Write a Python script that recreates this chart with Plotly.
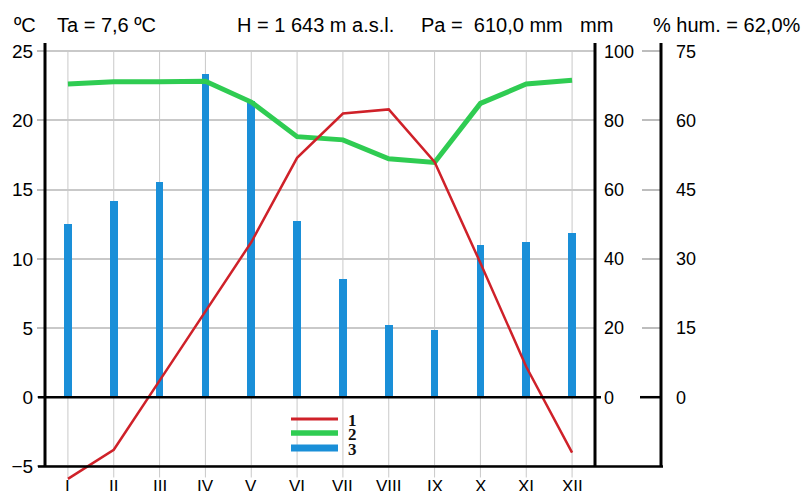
import plotly.graph_objects as go

# ---------------- data ----------------
months = ["I", "II", "III", "IV", "V", "VI", "VII", "VIII", "IX", "X", "XI", "XII"]
temperature = [-5.9, -3.8, 1.2, 6.2, 11.2, 17.3, 20.5, 20.8, 17.0, 9.7, 2.2, -4.0]      # ºC
precipitation = [50.0, 56.6, 62.3, 93.5, 85.5, 51.0, 34.2, 21.0, 19.4, 43.9, 45.0, 47.4]  # mm
humidity = [67.9, 68.4, 68.4, 68.5, 64.0, 56.5, 55.8, 51.7, 50.9, 63.7, 67.9, 68.7]     # %
temp_ticks = [-5, 0, 5, 10, 15, 20, 25]
mm_ticks = [0, 20, 40, 60, 80, 100]
hum_ticks = [0, 15, 30, 45, 60, 75]
legend_names = ["1", "2", "3"]
header_texts = ["ºC", "Ta = 7,6 ºC", "H = 1 643 m a.s.l.", "Pa =  610,0 mm", "mm", "% hum. = 62,0%"]

# ---------------- layout helpers ----------------
W, H = 801, 491
ML, MR, MT, MB = 45, 100, 43, 8
PW, PH = W - ML - MR, H - MT - MB


def px_x(px):
    return (px - ML) / PW


def px_y(py):
    return (MT + PH - py) / PH


T_LO, T_HI = -6.2, 25.6
x = list(range(1, len(months) + 1))

RED = "#cf2129"
GREEN = "#2fcc52"
BLUE = "#1a8fd8"
GRID = "#c9c9c9"
SANS = "Liberation Sans, Arial, sans-serif"
SERIF = "Liberation Serif, Times New Roman, serif"

fig = go.Figure()

fig.add_trace(go.Bar(
    x=x, y=precipitation, yaxis="y", width=0.17, name=legend_names[2],
    marker=dict(color=BLUE, line=dict(width=0)), showlegend=False,
))
fig.add_trace(go.Scatter(
    x=x, y=humidity, yaxis="y2", mode="lines", name=legend_names[1],
    line=dict(color=GREEN, width=5), showlegend=False,
))
fig.add_trace(go.Scatter(
    x=x, y=temperature, yaxis="y3", mode="lines", name=legend_names[0],
    line=dict(color=RED, width=2.5), showlegend=False,
))

shapes = []
# vertical month grid lines
for xi in x:
    shapes.append(dict(type="line", xref="x", yref="y3", x0=xi, x1=xi, y0=-5.8, y1=25,
                       line=dict(color=GRID, width=1), layer="below"))
# axis frame lines
for px in (45, 595, 661):
    shapes.append(dict(type="line", xref="paper", yref="y3", x0=px_x(px), x1=px_x(px),
                       y0=-5, y1=T_HI, line=dict(color="black", width=3)))
shapes.append(dict(type="line", xref="paper", yref="y3", x0=px_x(38), x1=px_x(601),
                   y0=0, y1=0, line=dict(color="black", width=2.5)))
shapes.append(dict(type="line", xref="paper", yref="y3", x0=px_x(640), x1=px_x(661),
                   y0=0, y1=0, line=dict(color="black", width=2.5)))
shapes.append(dict(type="line", xref="paper", yref="y3", x0=px_x(38), x1=px_x(663),
                   y0=-5, y1=-5, line=dict(color="black", width=2.5)))

annotations = []
# month labels
for xi, m in zip(x, months):
    annotations.append(dict(x=xi, y=px_y(475), xref="x", yref="paper", text=m,
                            showarrow=False, xanchor="center", yanchor="top",
                            font=dict(family=SANS, size=17, color="black")))
# header texts
header_pos = [12, 55, 235, 419, 578, 651]
for hx, t in zip(header_pos, header_texts):
    annotations.append(dict(x=px_x(hx), y=px_y(25), xref="paper", yref="paper", text=t,
                            showarrow=False, xanchor="left", yanchor="middle",
                            font=dict(family=SANS, size=20, color="black")))

# legend (key lines + labels)
legend_rows = [(419, RED, 3), (433, GREEN, 5.5), (448, BLUE, 7)]
for (ly, col, lw), name in zip(legend_rows, legend_names):
    shapes.append(dict(type="line", xref="paper", yref="paper", x0=px_x(291), x1=px_x(338),
                       y0=px_y(ly), y1=px_y(ly), line=dict(color=col, width=lw)))
    annotations.append(dict(x=px_x(346), y=px_y(ly + 1), xref="paper", yref="paper",
                            text="<b>" + name + "</b>", showarrow=False,
                            xanchor="left", yanchor="middle",
                            font=dict(family=SERIF, size=17, color="#111")))

fig.update_layout(
    width=W, height=H,
    margin=dict(l=ML, r=MR, t=MT, b=MB, autoexpand=False),
    paper_bgcolor="white", plot_bgcolor="white",
    bargap=0,
    xaxis=dict(range=[0.5, 12.5], domain=[0, px_x(595)], showgrid=False, zeroline=False,
               showticklabels=False, showline=False, ticks="", automargin=False),
    yaxis=dict(range=[4 * T_LO, 4 * T_HI], side="right", anchor="x",
               tickvals=mm_ticks, ticks="", showgrid=False, zeroline=False, showline=False,
               ticklabelstandoff=8, automargin=False,
               tickfont=dict(family=SANS, size=18, color="black")),
    yaxis2=dict(range=[3 * T_LO, 3 * T_HI], overlaying="y", side="right", anchor="free",
                position=px_x(661), tickvals=hum_ticks, ticks="inside", ticklen=19, tickwidth=2,
                tickcolor="#bdbdbd", showgrid=False, zeroline=False, showline=False,
                ticklabelstandoff=14, automargin=False,
                tickfont=dict(family=SANS, size=18, color="black")),
    yaxis3=dict(range=[T_LO, T_HI], overlaying="y", side="left", anchor="x",
                tickvals=temp_ticks, ticks="outside", ticklen=7, tickwidth=2, tickcolor="#bdbdbd",
                showgrid=True, gridcolor=GRID, gridwidth=2, zeroline=False, showline=False,
                ticklabelstandoff=0, automargin=False,
                tickfont=dict(family=SANS, size=19, color="black")),
    shapes=shapes,
    annotations=annotations,
    showlegend=False,
)

fig.write_html("out.html", config={"displayModeBar": False},
               post_script="document.body.style.margin='0px';")
